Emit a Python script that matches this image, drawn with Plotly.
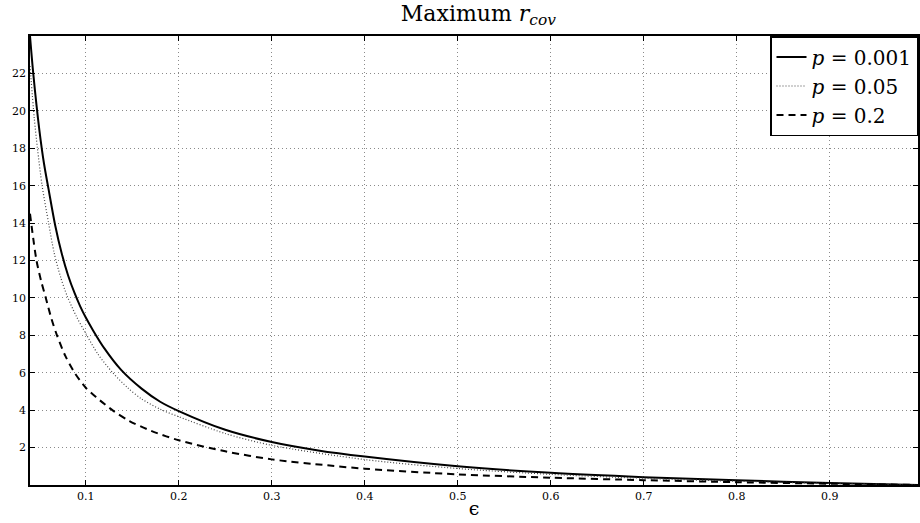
import plotly.graph_objects as go

# p = 0.001 (solid)
eps_s = [0.04, 0.0435, 0.05, 0.055, 0.06, 0.067, 0.074, 0.081, 0.088, 0.094, 0.1, 0.108, 0.12,
         0.138, 0.16, 0.18, 0.2, 0.25, 0.3, 0.35, 0.4, 0.5, 0.6, 0.7, 0.8, 0.9, 1.0]
r_s = [24.0, 22.0, 19.0, 17.2, 15.8, 13.9, 12.4, 11.2, 10.25, 9.55, 8.95, 8.25, 7.3,
       6.15, 5.15, 4.45, 3.95, 2.95, 2.3, 1.85, 1.52, 1.0, 0.65, 0.42, 0.25, 0.11, 0.0]

# p = 0.05 (dotted)
eps_d = [0.04, 0.0446, 0.048, 0.053, 0.06, 0.066, 0.073, 0.08, 0.09, 0.1, 0.113, 0.129, 0.145,
         0.16, 0.18, 0.2, 0.25, 0.3, 0.4, 0.5, 0.6, 0.7, 0.8, 0.9, 1.0]
r_d = [22.4, 19.6, 18.0, 16.0, 14.0, 12.4, 11.1, 10.1, 9.0, 8.1, 7.0, 6.0, 5.2,
       4.6, 4.05, 3.65, 2.75, 2.12, 1.36, 0.88, 0.57, 0.36, 0.2, 0.09, 0.0]

# p = 0.2 (dashed)
eps_p = [0.04, 0.047, 0.052, 0.057, 0.063, 0.069, 0.078, 0.088, 0.1, 0.111, 0.13, 0.147, 0.17,
         0.2, 0.25, 0.3, 0.36, 0.4, 0.5, 0.6, 0.7, 0.8, 0.9, 1.0]
r_p = [14.5, 12.0, 10.9, 10.0, 8.9, 8.0, 6.9, 6.0, 5.2, 4.7, 3.95, 3.42, 2.9,
       2.39, 1.8, 1.37, 1.05, 0.87, 0.57, 0.39, 0.26, 0.15, 0.07, 0.0]

x_ticks = [0.1, 0.2, 0.3, 0.4, 0.5, 0.6, 0.7, 0.8, 0.9]
x_tick_text = ["0.1", "0.2", "0.3", "0.4", "0.5", "0.6", "0.7", "0.8", "0.9"]
y_ticks = [2, 4, 6, 8, 10, 12, 14, 16, 18, 20, 22]
y_tick_text = [str(v) for v in y_ticks]

labels = ["<i>p</i> = 0.001", "<i>p</i> = 0.05", "<i>p</i> = 0.2"]

SERIF = "DejaVu Serif"

fig = go.Figure()
fig.add_trace(go.Scatter(x=eps_s, y=r_s, mode="lines", name=labels[0],
                         line=dict(color="black", width=2, shape="spline", smoothing=0.8)))
fig.add_trace(go.Scatter(x=eps_d, y=r_d, mode="lines", name=labels[1],
                         line=dict(color="#444444", width=1.2, dash="1px,2px", shape="spline", smoothing=0.8)))
fig.add_trace(go.Scatter(x=eps_p, y=r_p, mode="lines", name=labels[2],
                         line=dict(color="black", width=2, dash="7px,5px", shape="spline", smoothing=0.8)))

axis_common = dict(
    showline=True, linecolor="black", linewidth=1.5, mirror="ticks",
    ticks="inside", ticklen=5, tickcolor="black", tickwidth=1,
    showgrid=True, gridcolor="#8a8a8a", griddash="1px,3px", gridwidth=1,
    zeroline=False, tickfont=dict(family=SERIF, size=11, color="black"),
)

fig.update_xaxes(range=[0.04, 0.995], tickvals=x_ticks, ticktext=x_tick_text,
                 title=dict(text="ϵ", font=dict(family=SERIF, size=19, color="black"), standoff=0),
                 **axis_common)
fig.update_yaxes(range=[0, 24], tickvals=y_ticks, ticktext=y_tick_text, **axis_common)

fig.update_layout(
    width=920, height=523,
    margin=dict(l=30, r=0, t=36, b=38),
    paper_bgcolor="white", plot_bgcolor="white",
    title=dict(text="Maximum <i>r</i><sub><i>cov</i></sub>", x=0.52, xanchor="center",
               y=0.99, yanchor="top",
               font=dict(family=SERIF, size=22, color="black")),
    legend=dict(x=1, y=1, xanchor="right", yanchor="top",
                bgcolor="white", bordercolor="black", borderwidth=1.5,
                font=dict(family=SERIF, size=20, color="black"),
                itemwidth=30, tracegroupgap=0),
    showlegend=True,
)

fig.write_html("out.html")
